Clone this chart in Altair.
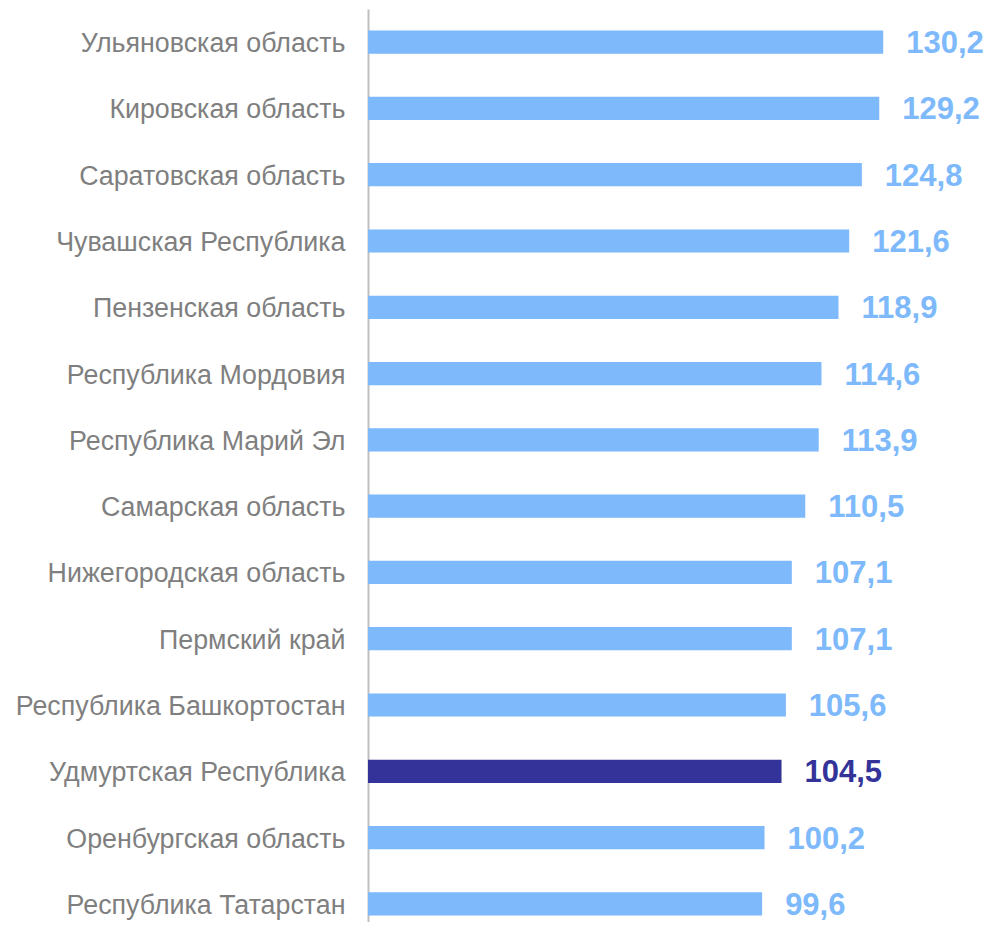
import altair as alt
import pandas as pd

regions = [
    "Ульяновская область",
    "Кировская область",
    "Саратовская область",
    "Чувашская Республика",
    "Пензенская область",
    "Республика Мордовия",
    "Республика Марий Эл",
    "Самарская область",
    "Нижегородская область",
    "Пермский край",
    "Республика Башкортостан",
    "Удмуртская Республика",
    "Оренбургская область",
    "Республика Татарстан",
]
values = [130.2, 129.2, 124.8, 121.6, 118.9, 114.6, 113.9, 110.5, 107.1, 107.1, 105.6, 104.5, 100.2, 99.6]
highlight = "Удмуртская Республика"

df = pd.DataFrame({
    "region": regions,
    "value": values,
    "label": [f"{v:.1f}".replace(".", ",") for v in values],
    "hl": ["yes" if r == highlight else "no" for r in regions],
})

color_scale = alt.Scale(domain=["no", "yes"], range=["#7db9fb", "#333399"])

y = alt.Y(
    "region:N",
    sort=regions,
    title=None,
    scale=alt.Scale(range=[0, 928], paddingInner=0.65, paddingOuter=0.325),
    axis=alt.Axis(
        domain=True, domainColor="#bfbfbf", domainWidth=2,
        ticks=False, tickSize=0, labelPadding=23, labelFontSize=26.8,
        labelColor="#7f7f7f", labelFont="Liberation Sans", labelLimit=400,
        labelOffset=2,
    ),
)
x = alt.X("value:Q", scale=alt.Scale(domain=[0, 140]), axis=None)

base = alt.Chart(df)
bars = base.mark_bar().encode(
    y=y, x=x, color=alt.Color("hl:N", scale=color_scale, legend=None)
)
text = base.mark_text(
    align="left", baseline="middle", dx=23, dy=2, fontSize=31, fontWeight="bold",
    font="Liberation Sans",
).encode(
    y=y, x=x, text="label:N", color=alt.Color("hl:N", scale=color_scale, legend=None)
)

chart = (bars + text).properties(
    width=554, height=913,
    autosize=alt.AutoSizeParams(type="none"),
    padding={"left": 360, "top": 1, "right": 62, "bottom": 0},
).configure_view(stroke=None).configure_axis(grid=False)

chart.save("out.html", embed_options={"renderer": "svg", "actions": False})
